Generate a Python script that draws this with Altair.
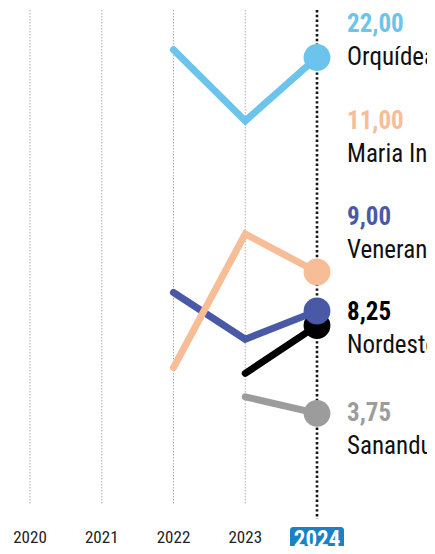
import altair as alt
import pandas as pd

# ---- data ----
years_all = [2020, 2021, 2022, 2023, 2024]
names = ["Orquídea", "Maria Inês", "Venerando", "Nordeste", "Sananduva"]
colors = ["#6cc4ec", "#f7bd97", "#4a59a6", "#000000", "#9c9c9c"]
value_colors = ["#6cc4ec", "#f7bd97", "#4a59a6", "#000000", "#9c9c9c"]
years_per_series = [
    [2022, 2023, 2024],
    [2022, 2023, 2024],
    [2022, 2023, 2024],
    [2023, 2024],
    [2023, 2024],
]
values_per_series = [
    [22.4, 18.75, 22.0],
    [6.1, 12.95, 11.0],
    [9.95, 7.55, 9.0],
    [5.8, 8.25],
    [4.6, 3.75],
]
# label slot (value units) where each series name is placed at the right
label_slots = [22.0, 17.05, 12.13, 7.26, 2.09]
draw_order = ["Sananduva", "Nordeste", "Venerando", "Maria Inês", "Orquídea"]

FONT = "Roboto Condensed, Liberation Sans Narrow, DejaVu Sans Condensed, Roboto, sans-serif"

xs = alt.Scale(domain=[2019.6934, 2025.5330], nice=False, zero=False)
ys = alt.Scale(domain=[-3.052, 24.538], nice=False, zero=False)

layers = []

# light dotted gridlines
grid_df = pd.DataFrame({"year": years_all[:-1]})
layers.append(
    alt.Chart(grid_df).mark_rule(color="#b0b0b0", strokeWidth=1, strokeDash=[1.5, 1.5]).encode(
        x=alt.X("year:Q", scale=xs, axis=None),
        y=alt.value(2),
        y2=alt.value(497),
    )
)
# highlighted 2024 dotted line
cur_df = pd.DataFrame({"year": years_all[-1:]})
layers.append(
    alt.Chart(cur_df).mark_rule(color="#111111", strokeWidth=2.6, strokeDash=[2.4, 2.4]).encode(
        x=alt.X("year:Q", scale=xs, axis=None),
        y=alt.value(2),
        y2=alt.value(511),
    )
)

# series lines + end dots
for nm in draw_order:
    i = names.index(nm)
    df = pd.DataFrame({"year": years_per_series[i], "value": values_per_series[i]})
    base = alt.Chart(df).encode(
        x=alt.X("year:Q", scale=xs, axis=None),
        y=alt.Y("value:Q", scale=ys, axis=None),
    )
    line = base.mark_line(color=colors[i], strokeWidth=7, strokeCap="round", strokeJoin="miter")
    dot = base.transform_filter(alt.datum.year == years_all[-1]).mark_circle(
        color=colors[i], opacity=1, size=720
    )
    layers += [line, dot]

# right-side labels
lab_df = pd.DataFrame({
    "name": names,
    "year": [years_all[-1]] * len(names),
    "slot": label_slots,
    "label": [f"{v[-1]:.2f}".replace(".", ",") for v in values_per_series],
    "color": value_colors,
})
lab_base = alt.Chart(lab_df).encode(
    x=alt.X("year:Q", scale=xs, axis=None),
    y=alt.Y("slot:Q", scale=ys, axis=None),
)
layers.append(
    lab_base.mark_text(align="left", baseline="middle", dx=30, dy=-33, fontSize=25,
                       fontWeight="bold", font=FONT).encode(
        text="label:N", color=alt.Color("color:N", scale=None)
    )
)
layers.append(
    lab_base.mark_text(align="left", baseline="middle", dx=30, fontSize=25,
                       font=FONT, color="#111111").encode(text="name:N")
)

# year labels
yl_df = pd.DataFrame({"year": years_all[:-1]})
layers.append(
    alt.Chart(yl_df).mark_text(fontSize=17, font=FONT, color="#222222", baseline="middle").encode(
        x=alt.X("year:Q", scale=xs, axis=None),
        y=alt.value(530),
        text=alt.Text("year:N"),
    )
)
layers.append(
    alt.Chart(cur_df).mark_rect(color="#1b80c4", xOffset=-27, x2Offset=27, cornerRadius=3).encode(
        x=alt.X("year:Q", scale=xs, axis=None),
        x2="year:Q",
        y=alt.value(519),
        y2=alt.value(560),
    )
)
layers.append(
    alt.Chart(cur_df).mark_text(fontSize=23, font=FONT, fontWeight="bold", color="white",
                                baseline="middle").encode(
        x=alt.X("year:Q", scale=xs, axis=None),
        y=alt.value(532),
        text=alt.Text("year:N"),
    )
)

chart = alt.layer(*layers).properties(
    width=419, height=538,
    autosize=alt.AutoSizeParams(type="none"),
    padding=0,
    background="white",
).configure_view(stroke=None)

chart.save("out.html", embed_options={"renderer": "svg", "actions": False})
